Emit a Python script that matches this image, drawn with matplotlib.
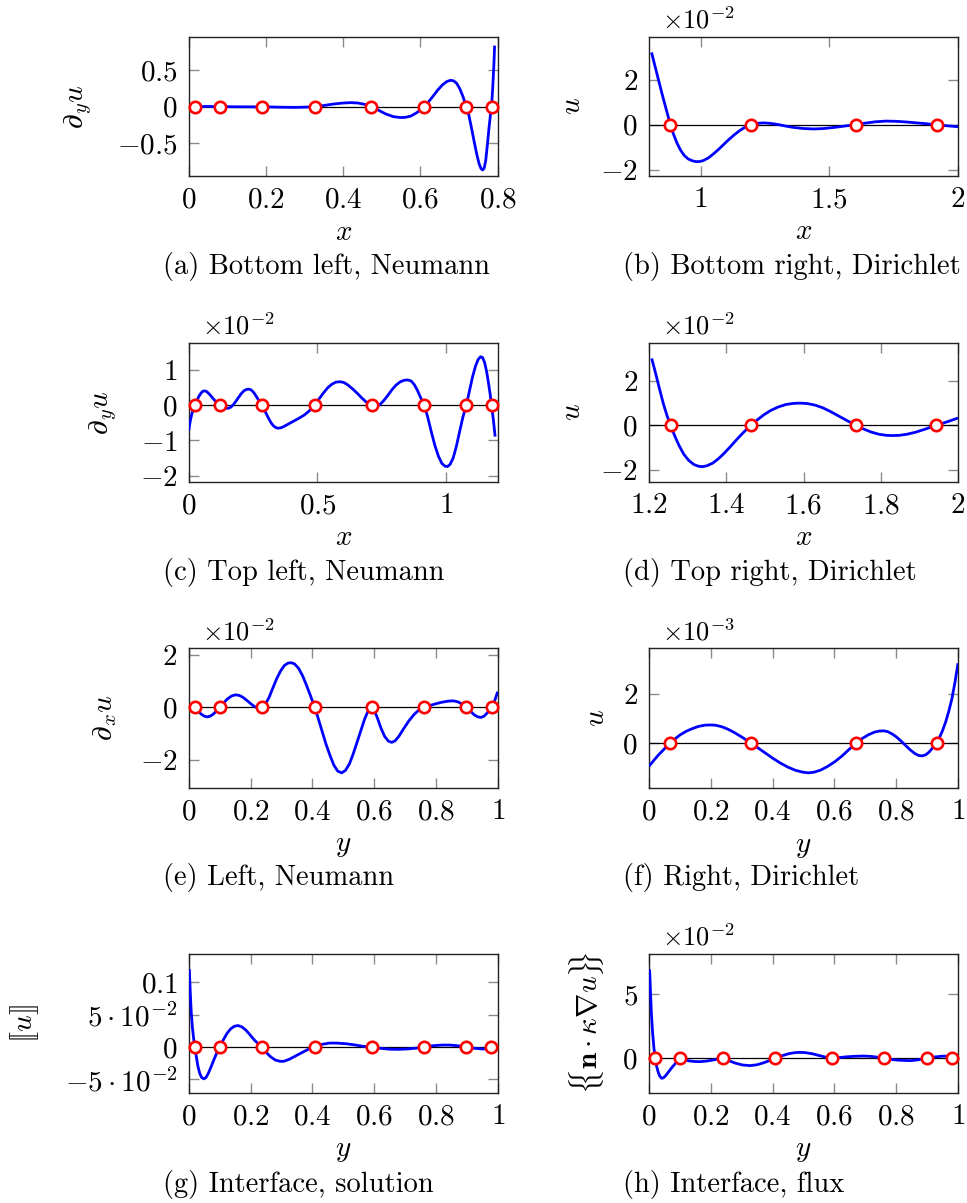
import numpy as np
import matplotlib
matplotlib.use("Agg")
import matplotlib.pyplot as plt

plt.rcParams["mathtext.fontset"] = "cm"
plt.rcParams["font.family"] = ["cmr10", "DejaVu Serif"]
plt.rcParams["axes.unicode_minus"] = False
plt.rcParams["axes.formatter.use_mathtext"] = True

# ---------------------------------------------------------------------------
# Boundary residuals along each edge (values in units of the axis multiplier)
# ---------------------------------------------------------------------------

# (a) bottom left, Neumann: d_y u
a_x = [0.000, 0.040, 0.080, 0.120, 0.160, 0.200, 0.240, 0.280, 0.305, 0.327,
       0.350, 0.375, 0.400, 0.420, 0.438, 0.455, 0.473, 0.490, 0.510, 0.530,
       0.548, 0.560, 0.575, 0.590, 0.600, 0.609, 0.620, 0.632, 0.645, 0.657,
       0.668, 0.678, 0.686, 0.694, 0.702, 0.710, 0.719, 0.725, 0.732, 0.739,
       0.746, 0.752, 0.757, 0.761, 0.765, 0.769, 0.773, 0.777, 0.781, 0.784,
       0.787, 0.790, 0.792]
a_val = [0.000, 0.002, 0.001, -0.002, -0.003, -0.003, -0.008, -0.010, -0.006, 0.000,
         0.016, 0.036, 0.050, 0.055, 0.050, 0.032, 0.000, -0.045, -0.100, -0.138,
         -0.150, -0.148, -0.130, -0.085, -0.045, 0.000, 0.060, 0.140, 0.230, 0.300,
         0.345, 0.363, 0.355, 0.320, 0.245, 0.140, 0.000, -0.110, -0.290, -0.480,
         -0.660, -0.790, -0.855, -0.872, -0.845, -0.740, -0.540, -0.320, -0.120, 0.000,
         0.250, 0.560, 0.840]
a_nodes = [0.016, 0.081, 0.190, 0.327, 0.473, 0.610, 0.719, 0.784]

# (b) bottom right, Dirichlet: u  [x 1e-2]
b_x = [0.810, 0.820, 0.830, 0.840, 0.850, 0.860, 0.870, 0.883, 0.895, 0.908,
       0.922, 0.937, 0.952, 0.967, 0.982, 0.995, 1.010, 1.030, 1.050, 1.070,
       1.090, 1.110, 1.130, 1.150, 1.170, 1.196, 1.220, 1.245, 1.270, 1.300,
       1.330, 1.360, 1.400, 1.440, 1.480, 1.520, 1.560, 1.601, 1.640, 1.680,
       1.720, 1.760, 1.800, 1.840, 1.880, 1.913, 1.950, 2.000]
b_val = [3.21, 2.75, 2.30, 1.85, 1.40, 0.97, 0.55, 0.00, -0.42, -0.80,
         -1.12, -1.37, -1.52, -1.60, -1.64, -1.64, -1.60, -1.48, -1.30, -1.10,
         -0.88, -0.66, -0.46, -0.28, -0.13, 0.00, 0.06, 0.08, 0.06, 0.01,
         -0.06, -0.12, -0.17, -0.19, -0.17, -0.12, -0.06, 0.00, 0.07, 0.13,
         0.16, 0.15, 0.12, 0.08, 0.04, 0.00, -0.04, -0.09]
b_nodes = [0.883, 1.196, 1.604, 1.917]

# (c) top left, Neumann: d_y u  [x 1e-2]
c_x = [0.000, 0.006, 0.012, 0.018, 0.025, 0.032, 0.040, 0.048, 0.055, 0.061,
       0.068, 0.076, 0.085, 0.095, 0.105, 0.114, 0.122, 0.131, 0.140, 0.148,
       0.156, 0.164, 0.172, 0.182, 0.193, 0.205, 0.216, 0.226, 0.234, 0.242,
       0.252, 0.262, 0.272, 0.285, 0.296, 0.308, 0.320, 0.330, 0.340, 0.348,
       0.358, 0.370, 0.390, 0.410, 0.430, 0.450, 0.468, 0.488, 0.505, 0.522,
       0.540, 0.556, 0.572, 0.588, 0.602, 0.618, 0.636, 0.655, 0.672, 0.690,
       0.711, 0.720, 0.730, 0.742, 0.756, 0.772, 0.790, 0.806, 0.822, 0.838,
       0.852, 0.864, 0.876, 0.888, 0.900, 0.915, 0.928, 0.942, 0.956, 0.970,
       0.983, 0.995, 1.005, 1.015, 1.027, 1.040, 1.052, 1.065, 1.078, 1.090,
       1.102, 1.114, 1.124, 1.133, 1.141, 1.149, 1.157, 1.165, 1.171, 1.176,
       1.183, 1.190]
c_val = [-0.72, -0.45, -0.25, -0.10, 0.00, 0.14, 0.26, 0.35, 0.40, 0.41,
         0.40, 0.35, 0.28, 0.19, 0.11, 0.05, 0.00, -0.04, -0.07, -0.085,
         -0.08, -0.05, 0.01, 0.10, 0.22, 0.34, 0.42, 0.455, 0.46, 0.44,
         0.37, 0.26, 0.14, 0.00, -0.16, -0.34, -0.50, -0.59, -0.64, -0.65,
         -0.64, -0.60, -0.52, -0.44, -0.36, -0.27, -0.16, 0.00, 0.17, 0.34,
         0.50, 0.60, 0.66, 0.67, 0.65, 0.58, 0.47, 0.34, 0.21, 0.09,
         0.00, -0.02, -0.02, 0.02, 0.12, 0.27, 0.45, 0.58, 0.67, 0.715,
         0.72, 0.69, 0.59, 0.43, 0.23, 0.00, -0.33, -0.75, -1.14, -1.45,
         -1.65, -1.73, -1.74, -1.68, -1.50, -1.15, -0.75, -0.33, 0.00, 0.40,
         0.80, 1.12, 1.30, 1.38, 1.36, 1.22, 0.96, 0.60, 0.30, 0.00,
         -0.40, -0.89]
c_nodes = [0.024, 0.122, 0.285, 0.490, 0.710, 0.915, 1.078, 1.176]

# (d) top right, Dirichlet: u  [x 1e-2]
d_x = [1.207, 1.214, 1.222, 1.230, 1.238, 1.247, 1.256, 1.266, 1.277, 1.290,
       1.303, 1.316, 1.328, 1.338, 1.350, 1.365, 1.380, 1.395, 1.410, 1.425,
       1.440, 1.452, 1.464, 1.480, 1.497, 1.515, 1.535, 1.555, 1.575, 1.592,
       1.610, 1.630, 1.650, 1.670, 1.690, 1.712, 1.736, 1.755, 1.775, 1.795,
       1.815, 1.830, 1.848, 1.868, 1.890, 1.915, 1.944, 1.972, 2.000]
d_val = [3.01, 2.55, 2.00, 1.45, 0.92, 0.42, 0.00, -0.45, -0.88, -1.30,
         -1.58, -1.76, -1.84, -1.86, -1.82, -1.70, -1.50, -1.25, -0.97, -0.68,
         -0.40, -0.19, 0.00, 0.24, 0.47, 0.67, 0.83, 0.94, 0.99, 1.00,
         0.98, 0.91, 0.79, 0.62, 0.43, 0.22, 0.00, -0.16, -0.30, -0.40,
         -0.45, -0.46, -0.45, -0.40, -0.31, -0.17, 0.00, 0.16, 0.33]
d_nodes = [1.256, 1.464, 1.736, 1.944]

# (e) left, Neumann: d_x u  [x 1e-2]
e_y = [0.000, 0.010, 0.020, 0.030, 0.040, 0.050, 0.060, 0.070, 0.080, 0.090,
       0.101, 0.112, 0.125, 0.138, 0.151, 0.163, 0.175, 0.188, 0.200, 0.212,
       0.222, 0.230, 0.238, 0.248, 0.260, 0.272, 0.285, 0.298, 0.310, 0.322,
       0.332, 0.342, 0.355, 0.368, 0.380, 0.394, 0.408, 0.420, 0.432, 0.445,
       0.458, 0.470, 0.482, 0.495, 0.507, 0.520, 0.532, 0.545, 0.558, 0.570,
       0.582, 0.592, 0.600, 0.610, 0.622, 0.634, 0.646, 0.657, 0.668, 0.680,
       0.695, 0.712, 0.730, 0.746, 0.762, 0.780, 0.800, 0.820, 0.840, 0.857,
       0.872, 0.886, 0.899, 0.912, 0.925, 0.936, 0.946, 0.956, 0.966, 0.975,
       0.982, 0.990, 1.000]
e_val = [0.05, 0.03, 0.00, -0.13, -0.25, -0.33, -0.36, -0.33, -0.25, -0.13,
         0.00, 0.16, 0.32, 0.43, 0.48, 0.46, 0.39, 0.27, 0.15, 0.04,
         -0.02, -0.03, 0.00, 0.12, 0.38, 0.73, 1.10, 1.40, 1.60, 1.69,
         1.70, 1.66, 1.50, 1.22, 0.88, 0.45, 0.00, -0.45, -0.92, -1.42,
         -1.85, -2.20, -2.42, -2.49, -2.40, -2.15, -1.78, -1.32, -0.85, -0.42,
         -0.10, 0.00, -0.10, -0.38, -0.78, -1.10, -1.28, -1.33, -1.27, -1.10,
         -0.82, -0.52, -0.26, -0.09, 0.00, 0.07, 0.14, 0.20, 0.24, 0.25,
         0.21, 0.12, 0.00, -0.15, -0.29, -0.36, -0.38, -0.33, -0.21, -0.07,
         0.05, 0.25, 0.60]
e_nodes = [0.020, 0.102, 0.237, 0.408, 0.592, 0.763, 0.898, 0.980]

# (f) right, Dirichlet: u  [x 1e-3]
f_y = [0.000, 0.015, 0.030, 0.050, 0.069, 0.085, 0.100, 0.120, 0.140, 0.160,
       0.180, 0.198, 0.215, 0.235, 0.255, 0.275, 0.300, 0.329, 0.350, 0.375,
       0.400, 0.425, 0.450, 0.475, 0.497, 0.516, 0.535, 0.555, 0.575, 0.600,
       0.625, 0.648, 0.670, 0.690, 0.710, 0.730, 0.745, 0.759, 0.772, 0.786,
       0.800, 0.815, 0.830, 0.845, 0.860, 0.872, 0.883, 0.895, 0.906, 0.918,
       0.930, 0.940, 0.950, 0.960, 0.970, 0.980, 0.990, 1.000]
f_val = [-0.95, -0.72, -0.50, -0.24, 0.00, 0.17, 0.32, 0.47, 0.58, 0.67,
         0.72, 0.73, 0.72, 0.66, 0.56, 0.43, 0.24, 0.00, -0.18, -0.40,
         -0.62, -0.82, -0.99, -1.12, -1.19, -1.22, -1.19, -1.11, -0.98, -0.78,
         -0.53, -0.26, 0.00, 0.18, 0.33, 0.44, 0.48, 0.49, 0.46, 0.37,
         0.25, 0.08, -0.10, -0.28, -0.43, -0.51, -0.53, -0.49, -0.38, -0.20,
         0.00, 0.22, 0.50, 0.85, 1.28, 1.78, 2.45, 3.24]
f_nodes = [0.069, 0.330, 0.670, 0.931]

# (g) interface, solution jump
g_y = [0.002, 0.005, 0.008, 0.012, 0.016, 0.020, 0.025, 0.030, 0.036, 0.042,
       0.049, 0.056, 0.064, 0.072, 0.082, 0.091, 0.101, 0.112, 0.124, 0.136,
       0.148, 0.160, 0.172, 0.185, 0.198, 0.212, 0.225, 0.237, 0.250, 0.265,
       0.280, 0.295, 0.308, 0.325, 0.345, 0.365, 0.385, 0.408, 0.430, 0.455,
       0.480, 0.510, 0.540, 0.565, 0.592, 0.620, 0.650, 0.680, 0.710, 0.740,
       0.762, 0.790, 0.820, 0.845, 0.870, 0.899, 0.925, 0.950, 0.975, 1.000]
g_val = [0.120, 0.085, 0.055, 0.030, 0.013, 0.000, -0.016, -0.030, -0.041, -0.047,
         -0.049, -0.047, -0.040, -0.031, -0.019, -0.009, 0.000, 0.011, 0.021, 0.028,
         0.032, 0.033, 0.031, 0.026, 0.019, 0.011, 0.005, 0.000, -0.008, -0.015,
         -0.020, -0.022, -0.022, -0.019, -0.014, -0.009, -0.004, 0.000, 0.004, 0.006,
         0.006, 0.005, 0.003, 0.001, 0.000, -0.002, -0.0034, -0.0036, -0.003, -0.0015,
         0.000, 0.002, 0.003, 0.003, 0.002, 0.000, -0.002, -0.003, -0.003, -0.002]

# (h) interface, flux average  [x 1e-2]
h_y = [0.002, 0.005, 0.008, 0.012, 0.016, 0.020, 0.025, 0.030, 0.035, 0.041,
       0.047, 0.054, 0.062, 0.072, 0.084, 0.093, 0.101, 0.115, 0.130, 0.148,
       0.165, 0.185, 0.205, 0.222, 0.238, 0.258, 0.280, 0.303, 0.327, 0.350,
       0.372, 0.390, 0.408, 0.430, 0.452, 0.470, 0.489, 0.508, 0.530, 0.552,
       0.572, 0.592, 0.615, 0.640, 0.665, 0.694, 0.715, 0.740, 0.762, 0.785,
       0.810, 0.846, 0.870, 0.899, 0.925, 0.950, 0.965, 0.979, 1.000]
h_val = [6.95, 5.10, 3.40, 1.90, 0.80, 0.00, -0.65, -1.10, -1.40, -1.56,
         -1.52, -1.35, -1.10, -0.78, -0.44, -0.20, 0.00, -0.12, -0.20, -0.25,
         -0.26, -0.22, -0.14, -0.06, 0.00, -0.18, -0.38, -0.52, -0.57, -0.50,
         -0.34, -0.17, 0.00, 0.20, 0.36, 0.44, 0.47, 0.44, 0.35, 0.21,
         0.09, 0.00, 0.06, 0.12, 0.16, 0.18, 0.16, 0.09, 0.00, -0.09,
         -0.15, -0.18, -0.12, 0.00, 0.11, 0.17, 0.17, 0.12, 0.10]
interface_nodes = [0.020, 0.101, 0.238, 0.408, 0.592, 0.762, 0.899, 0.979]

unit_ticks = [0, 0.2, 0.4, 0.6, 0.8, 1]
unit_labels = ["$0$", "$0.2$", "$0.4$", "$0.6$", "$0.8$", "$1$"]

panels = [
    dict(s=a_x, v=a_val, n=a_nodes, xlim=(0, 0.8), ylim=(-0.955, 0.963),
         xt=[0, 0.2, 0.4, 0.6, 0.8], xtl=["$0$", "$0.2$", "$0.4$", "$0.6$", "$0.8$"],
         yt=[-0.5, 0, 0.5], ytl=["$-0.5$", "$0$", "$0.5$"],
         xl="$x$", yl=r"$\partial_y u$", mult=None, cap="(a) Bottom left, Neumann"),
    dict(s=b_x, v=b_val, n=b_nodes, xlim=(0.8, 2.0), ylim=(-2.28, 3.91),
         xt=[1, 1.5, 2], xtl=["$1$", "$1.5$", "$2$"],
         yt=[-2, 0, 2], ytl=["$-2$", "$0$", "$2$"],
         xl="$x$", yl="$u$", mult=r"$\times10^{-2}$", cap="(b) Bottom right, Dirichlet"),
    dict(s=c_x, v=c_val, n=c_nodes, xlim=(0, 1.2), ylim=(-2.18, 1.78),
         xt=[0, 0.5, 1], xtl=["$0$", "$0.5$", "$1$"],
         yt=[-2, -1, 0, 1], ytl=["$-2$", "$-1$", "$0$", "$1$"],
         xl="$x$", yl=r"$\partial_y u$", mult=r"$\times10^{-2}$", cap="(c) Top left, Neumann"),
    dict(s=d_x, v=d_val, n=d_nodes, xlim=(1.2, 2.0), ylim=(-2.55, 3.72),
         xt=[1.2, 1.4, 1.6, 1.8, 2], xtl=["$1.2$", "$1.4$", "$1.6$", "$1.8$", "$2$"],
         yt=[-2, 0, 2], ytl=["$-2$", "$0$", "$2$"],
         xl="$x$", yl="$u$", mult=r"$\times10^{-2}$", cap="(d) Top right, Dirichlet"),
    dict(s=e_y, v=e_val, n=e_nodes, xlim=(0, 1), ylim=(-3.05, 2.25),
         xt=unit_ticks, xtl=unit_labels,
         yt=[-2, 0, 2], ytl=["$-2$", "$0$", "$2$"],
         xl="$y$", yl=r"$\partial_x u$", mult=r"$\times10^{-2}$", cap="(e) Left, Neumann"),
    dict(s=f_y, v=f_val, n=f_nodes, xlim=(0, 1), ylim=(-1.82, 3.85),
         xt=unit_ticks, xtl=unit_labels,
         yt=[0, 2], ytl=["$0$", "$2$"],
         xl="$y$", yl="$u$", mult=r"$\times10^{-3}$", cap="(f) Right, Dirichlet"),
    dict(s=g_y, v=g_val, n=interface_nodes, xlim=(0, 1), ylim=(-0.0708, 0.1436),
         xt=unit_ticks, xtl=unit_labels,
         yt=[-0.05, 0, 0.05, 0.1],
         ytl=[r"$-5\cdot10^{-2}$", "$0$", r"$5\cdot10^{-2}$", "$0.1$"],
         xl="$y$", yl=r"$[\![u]\!]$", mult=None, cap="(g) Interface, solution"),
    dict(s=h_y, v=h_val, n=interface_nodes, xlim=(0, 1), ylim=(-2.71, 8.18),
         xt=unit_ticks, xtl=unit_labels,
         yt=[0, 5], ytl=["$0$", "$5$"],
         xl="$y$", yl=r"$\{\!\!\{\mathbf{n}\cdot\kappa\nabla u\}\!\!\}$",
         mult=r"$\times10^{-2}$", cap="(h) Interface, flux"),
]

# ---------------------------------------------------------------------------
# Layout (pixel geometry of the 4 x 2 grid)
# ---------------------------------------------------------------------------
W, H = 967, 1203
fig = plt.figure(figsize=(W / 100, H / 100), dpi=100)


def fpx(x, y):
    return x / W, 1 - y / H


col_left = [188.7, 649.0]
ax_w = 309.0
row_top = [36.7, 342.7, 648.3, 953.7]
ax_h = 139.3
ylabel_x = [78, 573, 103, 573, 105, 597, 25, 587]
xlabel_dy = [57, 56, 56, 56, 58, 59, 58, 58]
caption_base = [274, 580, 885, 1192]
caption_x = [163, 623]

TICK_FS = 21
LABEL_FS = 21
CAP_FS = 20.5
MULT_FS = 19

for i, p in enumerate(panels):
    r, c = divmod(i, 2)
    left, top = col_left[c], row_top[r]
    fl, fb = left / W, 1 - (top + ax_h) / H
    ax = fig.add_axes([fl, fb, ax_w / W, ax_h / H])

    ax.axhline(0, color="black", lw=0.9, zorder=2)
    ax.plot(p["s"], p["v"], color="#0000ff", lw=2.0, zorder=3,
            solid_joinstyle="round", solid_capstyle="butt")
    ax.plot(p["n"], np.zeros(len(p["n"])), linestyle="none", marker="o",
            ms=8.2, mew=1.9, mec="#ff0000", mfc="white", zorder=4, clip_on=False)

    ax.set_xlim(*p["xlim"])
    ax.set_ylim(*p["ylim"])
    ax.set_xticks(p["xt"])
    ax.set_xticklabels(p["xtl"])
    ax.set_yticks(p["yt"])
    ax.set_yticklabels(p["ytl"])
    ax.tick_params(direction="in", length=7, width=1.0, color="#8a8a8a",
                   top=True, right=True, labelsize=TICK_FS, pad=8)
    for sp in ax.spines.values():
        sp.set_linewidth(1.0)
        sp.set_color("#222222")

    cx = left + ax_w / 2
    cy = top + ax_h / 2
    fig.text(*fpx(cx, top + ax_h + xlabel_dy[i]), p["xl"], ha="center",
             va="center", fontsize=LABEL_FS)
    fig.text(*fpx(ylabel_x[i], cy), p["yl"], rotation=90, ha="center",
             va="center", fontsize=LABEL_FS)
    if p["mult"]:
        fig.text(*fpx(left + 13, top - 8), p["mult"], ha="left",
                 va="baseline", fontsize=MULT_FS)
    fig.text(*fpx(caption_x[c], caption_base[r]), p["cap"], ha="left",
             va="baseline", fontsize=CAP_FS)

fig.savefig("out.png", dpi=100)
